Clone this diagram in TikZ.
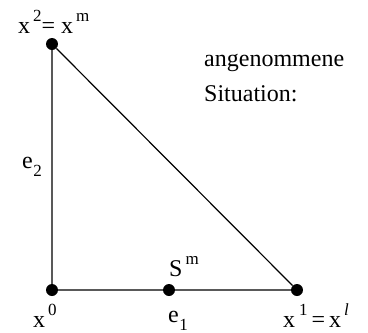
\documentclass[tikz,border=0pt]{standalone}
\usepackage{fontspec}
\setmainfont{Liberation Serif}
\newcommand{\sps}[1]{\kern3pt\raisebox{0.5em}{\fontsize{17}{19}\selectfont #1}}
\newcommand{\sbs}[1]{\kern0.5pt\raisebox{-0.35em}{\fontsize{17}{19}\selectfont #1}}
\begin{document}
\begin{tikzpicture}[x=1pt,y=-1pt,
  pt/.style={circle,fill=black,inner sep=0pt,minimum size=12pt},
  lbl/.style={inner sep=0pt,font=\fontsize{24}{28}\selectfont},
  edge/.style={line width=1.2pt}]
\useasboundingbox (0,0) rectangle (368,333);
\node[pt] (x0) at (52,290) {};
\node[pt] (x2) at (52,44) {};
\node[pt] (x1) at (297,290) {};
\node[pt] (sm) at (169,290) {};
\draw[edge] (x0) -- (sm) -- (x1) -- (x2) -- (x0);
\node[lbl,anchor=base west] (l2) at (18,33) {x\sps{2}= x\sps{m}};
\node[lbl,anchor=base west] (l0) at (33,327) {x\sps{0}};
\node[lbl,anchor=base west] (le1) at (168,322) {e\sbs{1}};
\node[lbl,anchor=base west] (lsm) at (169,276) {S\sps{m}};
\node[lbl,anchor=base west] (l1) at (283,327) {x\kern1pt\sps{1}\kern4pt=\kern4pt x\sps{\textit{l}}};
\node[lbl,anchor=base west] (le2) at (22,168) {e\sbs{2}};
\node[lbl,anchor=base west] (t1) at (204,66) {angenommene};
\node[lbl,anchor=base west] (t2) at (204,101) {Situation:};
\end{tikzpicture}
\end{document}
